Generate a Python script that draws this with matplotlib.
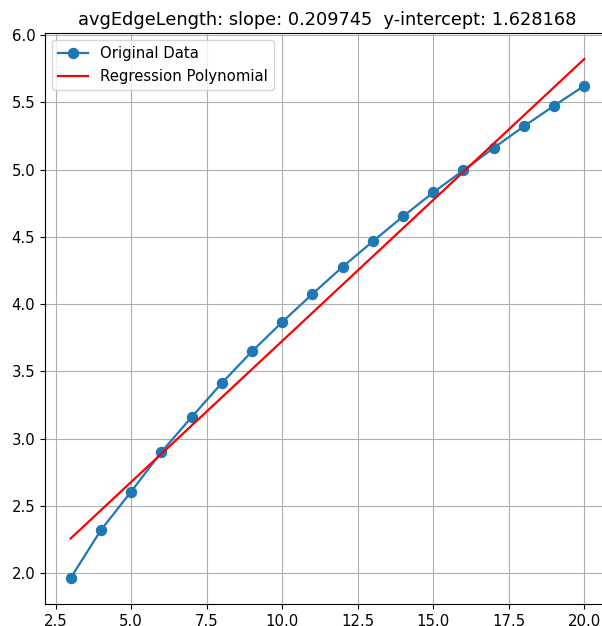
import matplotlib
matplotlib.use('Agg')
import matplotlib.pyplot as plt

# Values
x_vals = [3, 4, 5, 6, 7, 8, 9, 10, 11, 12, 13, 14, 15, 16, 17, 18, 19, 20]
avg_edge_length = [1.963, 2.319, 2.605, 2.899, 3.159, 3.412, 3.648, 3.866, 4.075,
                   4.277, 4.466, 4.652, 4.830, 4.995, 5.161, 5.322, 5.475, 5.624]

# Regression line end points (as drawn)
reg_x = [3, 20]
reg_y = [2.257, 5.823]

slope = 0.209745
intercept = 1.628168

# reference looks like a slightly upscaled render, so bump text a bit
plt.rcParams['font.size'] = 10.7
plt.rcParams['xtick.labelsize'] = 10.7
plt.rcParams['ytick.labelsize'] = 10.7

fig = plt.figure(figsize=(6.02, 6.26), dpi=100)
# axes run off the right edge, like in the cropped reference
ax = fig.add_axes([0.0748, 0.0353, 0.9385, 0.912])

ax.plot(x_vals, avg_edge_length, 'o-', color='#1f77b4', markersize=7.2,
        linewidth=1.6, label='Original Data')
ax.plot(reg_x, reg_y, '-', color='red', linewidth=1.6, label='Regression Polynomial')

ax.set_title(f'avgEdgeLength: slope: {slope:.6f}  y-intercept: {intercept:.6f}', fontsize=12.8)
ax.grid(True)
ax.legend(loc='upper left', fontsize=10.7)

plt.savefig('out.png', dpi=100)
